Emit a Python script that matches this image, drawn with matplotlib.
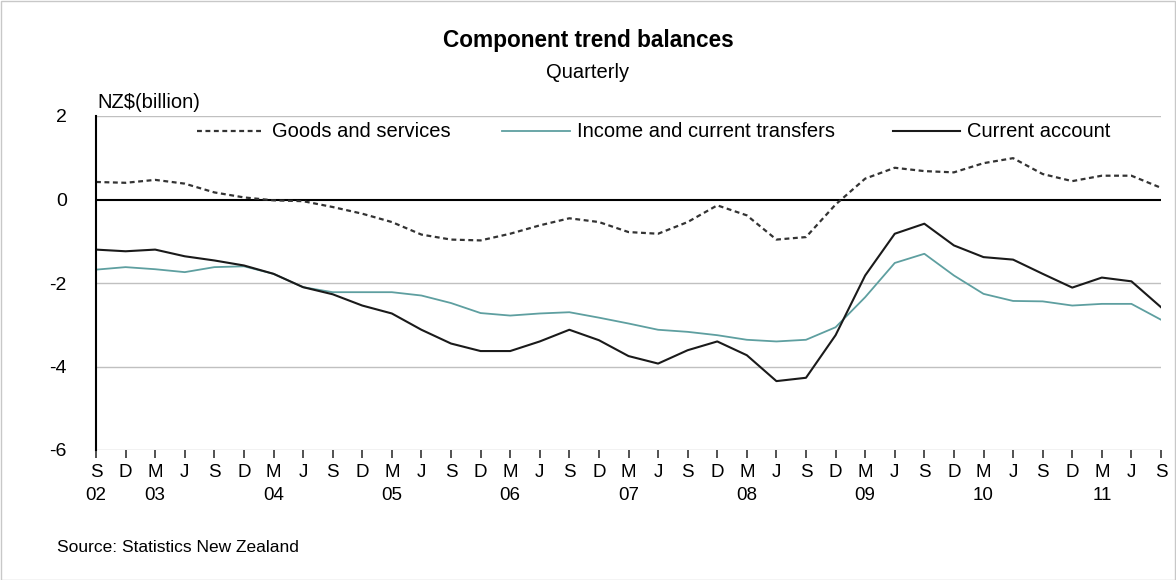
import matplotlib
matplotlib.use("Agg")
import matplotlib.pyplot as plt
from matplotlib.lines import Line2D
from matplotlib.patches import Rectangle

plt.rcParams['font.family'] = ['Liberation Sans', 'DejaVu Sans']

months = ["S", "D", "M", "J"] * 9 + ["S"]
years = {0: "02", 2: "03", 6: "04", 10: "05", 14: "06", 18: "07", 22: "08",
         26: "09", 30: "10", 34: "11"}

goods = [0.42, 0.40, 0.47, 0.38, 0.17, 0.05, -0.02, -0.04, -0.18, -0.34,
         -0.54, -0.84, -0.96, -0.98, -0.82, -0.62, -0.45, -0.54, -0.78, -0.82,
         -0.54, -0.14, -0.38, -0.96, -0.90, -0.12, 0.50, 0.76, 0.68, 0.65,
         0.87, 0.99, 0.61, 0.44, 0.57, 0.57, 0.28]
income = [-1.68, -1.62, -1.67, -1.74, -1.62, -1.60, -1.78, -2.10, -2.22, -2.22,
          -2.22, -2.30, -2.48, -2.72, -2.78, -2.73, -2.70, -2.83, -2.97, -3.12,
          -3.17, -3.25, -3.36, -3.40, -3.36, -3.06, -2.34, -1.52, -1.30, -1.82,
          -2.26, -2.43, -2.44, -2.54, -2.50, -2.50, -2.88]
current = [-1.20, -1.24, -1.20, -1.36, -1.46, -1.58, -1.78, -2.10, -2.27, -2.54,
           -2.73, -3.12, -3.45, -3.63, -3.63, -3.40, -3.12, -3.37, -3.75, -3.93,
           -3.61, -3.40, -3.73, -4.35, -4.27, -3.25, -1.82, -0.82, -0.58, -1.10,
           -1.38, -1.44, -1.78, -2.11, -1.87, -1.96, -2.58]
series_names = ["Goods and services", "Income and current transfers", "Current account"]

W, H = 1176, 580
fig = plt.figure(figsize=(W / 100, H / 100), dpi=100)
fig.patches.append(Rectangle((0.5 / W, 0.5 / H), 1 - 1.5 / W, 1 - 1.5 / H,
                             transform=fig.transFigure, fill=False,
                             edgecolor="#c8c8c8", linewidth=1))

def fx(px):
    return px / W

def fy(py):
    return 1 - py / H

left, right, top, bottom = 96, 1161, 116, 450
ax = fig.add_axes([left / W, 1 - bottom / H, (right - left) / W, (bottom - top) / H])

x = list(range(len(months)))
teal = "#5e9fa0"
styles = [dict(color="#333333", lw=1.6, linestyle=(0, (2.2, 1.6))),
          dict(color=teal, lw=1.3, linestyle="-"),
          dict(color="#1a1a1a", lw=1.5, linestyle="-")]
for vals, st in zip([goods, income, current], styles):
    ax.plot(x, vals, **st)

ax.set_xlim(0, len(months) - 1)
ax.set_ylim(-6, 2)
ax.set_yticks([2, 0, -2, -4, -6])
ax.set_yticklabels(["2", "0", "-2", "-4", "-6"], fontsize=14)
for yv in [2, -2, -4, -6]:
    ax.axhline(yv, color="#c0c0c0", lw=1.0, zorder=0)
ax.axhline(0, color="black", lw=1.5, zorder=1)

for s in ["top", "right", "bottom"]:
    ax.spines[s].set_visible(False)
ax.spines["left"].set_linewidth(1.5)
ax.tick_params(axis="y", length=0, pad=21)
ax.set_xticks(x)
labels = [m + ("\n" + years[i] if i in years else "\n") for i, m in enumerate(months)]
ax.set_xticklabels(labels, fontsize=13.5, linespacing=1.5)
ax.tick_params(axis="x", direction="out", length=6, width=1.2, color="#333333", pad=4)

# legend drawn at the reference positions
leg_y = 131
leg_items = [(197, 262, 272), (502, 570, 577), (893, 960, 967)]
for (x0, x1, tx), name, st in zip(leg_items, series_names, styles):
    fig.add_artist(Line2D([fx(x0), fx(x1)], [fy(leg_y), fy(leg_y)],
                          transform=fig.transFigure, **st))
    fig.text(fx(tx), fy(leg_y), name, ha="left", va="center", fontsize=14.5)

fig.text(0.5, fy(40), "Component trend balances", ha="center", va="center",
         fontsize=16.3, fontweight="bold")
fig.text(0.5, fy(72), "Quarterly", ha="center", va="center", fontsize=14.5)
fig.text(fx(97), fy(102), "NZ$(billion)", ha="left", va="center", fontsize=14.5)
fig.text(fx(57), fy(547), "Source: Statistics New Zealand", ha="left", va="center", fontsize=12.5)

fig.savefig("out.png", dpi=100)
